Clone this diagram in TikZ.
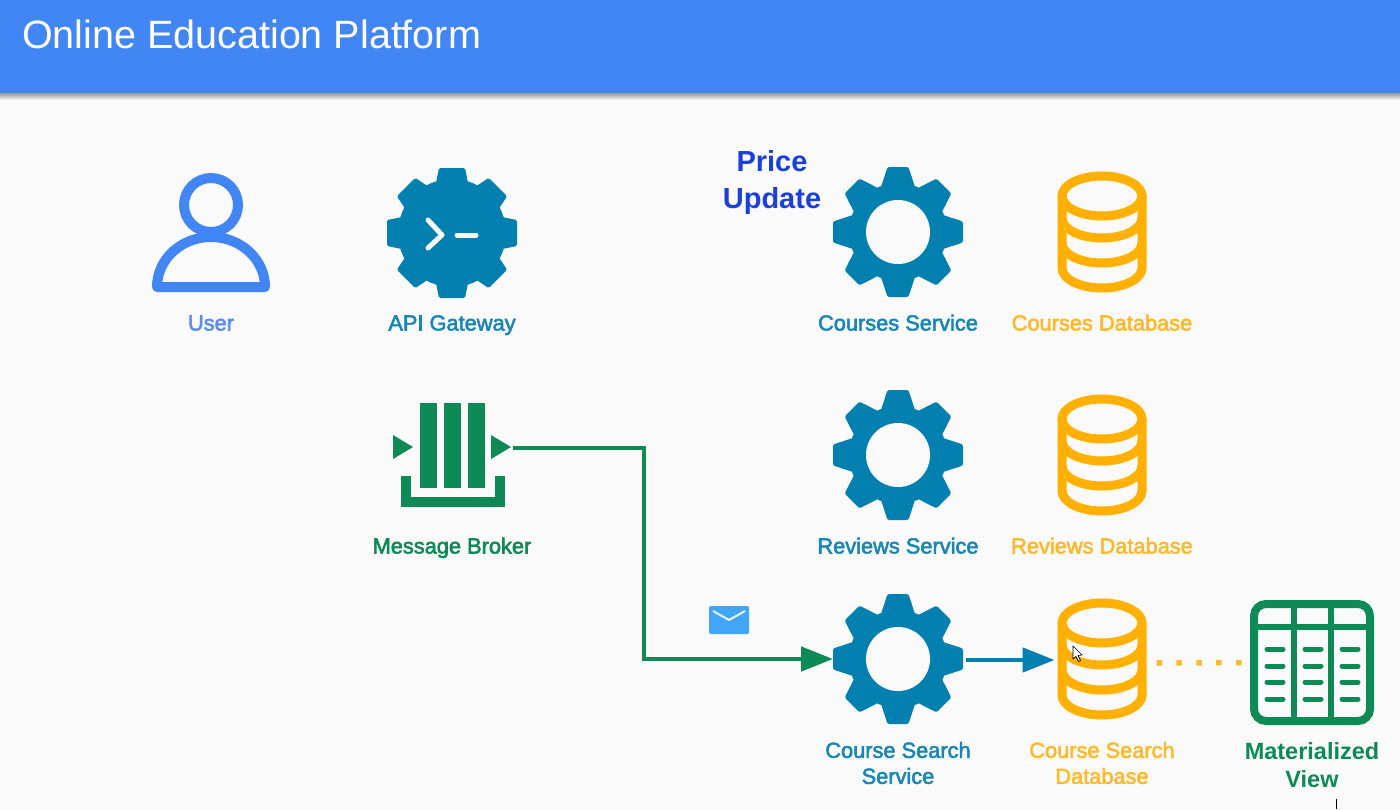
\documentclass[tikz,border=0pt]{standalone}
\usepackage{fontspec}
\setmainfont{Liberation Sans}
\newfontfamily\lblfont[FakeBold=2.5]{Liberation Sans}
\usetikzlibrary{arrows.meta,calc}
\definecolor{pagebg}{HTML}{FAFAFA}
\definecolor{headblue}{HTML}{4285F4}
\definecolor{gearblue}{HTML}{0480B0}
\definecolor{gearlabel}{HTML}{1A86B4}
\definecolor{dbgold}{HTML}{FFB000}
\definecolor{dblabel}{HTML}{FDB92C}
\definecolor{brokergreen}{HTML}{0D8A55}
\definecolor{userlabel}{HTML}{5B8EEA}
\definecolor{priceblue}{HTML}{1A40DC}
\definecolor{mailblue}{HTML}{42A5F5}
\tikzset{
  x=1pt,y=-1pt,
  iconbox/.style={inner sep=0pt,outer sep=0pt,minimum width=#1,minimum height=#1,draw=none},
  lbl/.style={inner sep=0pt,align=center,font=\lblfont\fontsize{21.8}{26}\selectfont,text=#1},
  onerow/.style={text height=16pt,text depth=5pt},
  flow/.style={line width=4.6pt,-{Triangle[length=32pt,width=24pt]}},
  gearpic/.pic={
    \fill[gearblue] (0,0) circle[radius=49];
    \foreach \a in {0,45,...,315}{
      \fill[gearblue,rotate=\a,rounded corners=1.5pt] (-17,-45) -- (-10.5,-65) -- (10.5,-65) -- (17,-45) -- cycle;
    }
    \fill[pagebg] (0,0) circle[radius=32];
  },
  apigearpic/.pic={
    \fill[gearblue] (0,0) circle[radius=54];
    \foreach \a in {0,45,...,315}{
      \fill[gearblue,rotate=\a,rounded corners=1.5pt] (-16,-50) -- (-13,-65) -- (13,-65) -- (16,-50) -- cycle;
    }
    \draw[pagebg,line width=5pt,line cap=round,line join=round] (-24,-13) -- (-10,2) -- (-24,15);
    \draw[pagebg,line width=5pt,line cap=round] (5,2) -- (24,2);
  },
  dbpic/.pic={
    \draw[dbgold,line width=9pt] (0,-36) ellipse[x radius=40,y radius=20];
    \draw[dbgold,line width=9pt] (-40,-36) -- (-40,36) arc[start angle=180,end angle=0,x radius=40,y radius=20] -- (40,-36);
    \draw[dbgold,line width=9pt] (-40,-14) arc[start angle=180,end angle=0,x radius=40,y radius=20];
    \draw[dbgold,line width=9pt] (-40,11) arc[start angle=180,end angle=0,x radius=40,y radius=20];
  },
}
\begin{document}
\begin{tikzpicture}
\useasboundingbox (0,0) rectangle (1400,809);
\fill[pagebg] (0,0) rectangle (1400,809);
\shade[top color=black!45,bottom color=pagebg] (0,92) rectangle (1400,100);
\fill[headblue] (0,0) rectangle (1400,93);
\node[anchor=base west,inner sep=0pt,text=white,font=\fontsize{39.5}{46}\selectfont] (title) at (22,48) {Online Education Platform};

% User
\node[iconbox=120pt] (user) at (211,233) {};
\draw[headblue,line width=10pt] (211,205) circle[radius=27];
\draw[headblue,line width=10pt,line join=round] (157,287) arc[start angle=180,end angle=360,x radius=54,y radius=50] -- cycle;
\node[lbl=userlabel,onerow] (userlabel) at (211,325) {User};

% Gateway
\node[iconbox=130pt] (gateway) at (452,233) {};
\pic at (452,233) {apigearpic};
\node[lbl=gearlabel,onerow] (gatewaylabel) at (452,325) {API Gateway};

% Broker
\node[inner sep=0pt,outer sep=0pt,minimum width=122pt,minimum height=104pt] (broker) at (452,448) {};
\fill[brokergreen] (420,403) rectangle (437,488);
\fill[brokergreen] (444,403) rectangle (461,488);
\fill[brokergreen] (468,403) rectangle (485,488);
\fill[brokergreen] (393,435) -- (413,447) -- (393,459) -- cycle;
\fill[brokergreen] (491,435) -- (511,447) -- (491,459) -- cycle;
\draw[brokergreen,line width=10pt] (406,476) -- (406,502) -- (500,502) -- (500,476);
\node[lbl=brokergreen,onerow] (brokerlabel) at (452,548) {Message Broker};

% Services
\node[iconbox=130pt] (courses) at (898,232) {};
\pic at (898,232) {gearpic};
\node[lbl=gearlabel,onerow] (courseslabel) at (898,325) {Courses Service};
\node[iconbox=130pt] (reviews) at (898,455) {};
\pic at (898,455) {gearpic};
\node[lbl=gearlabel,onerow] (reviewslabel) at (898,548) {Reviews Service};
\node[iconbox=130pt] (search) at (898,659) {};
\pic at (898,659) {gearpic};
\node[lbl=gearlabel] (searchlabel) at (898,763) {Course Search\\Service};

% Databases
\node[iconbox=89pt] (coursesdb) at (1102,232) {};
\pic at (1102,232) {dbpic};
\node[lbl=dblabel,onerow] (coursesdblabel) at (1102,325) {Courses Database};
\node[iconbox=89pt] (reviewsdb) at (1102,455) {};
\pic at (1102,455) {dbpic};
\node[lbl=dblabel,onerow] (reviewsdblabel) at (1102,548) {Reviews Database};
\node[iconbox=89pt] (searchdb) at (1102,659) {};
\pic at (1102,659) {dbpic};
\node[lbl=dblabel] (searchdblabel) at (1102,763) {Course Search\\Database};

% Materialized view
\node[iconbox=124pt] (view) at (1312,662.5) {};
\draw[brokergreen,line width=8pt,rounded corners=12pt] (1254,604) rectangle (1370,721);
\draw[brokergreen,line width=6pt] (1254,627) -- (1370,627);
\draw[brokergreen,line width=6pt] (1294,604) -- (1294,721);
\draw[brokergreen,line width=6pt] (1331,604) -- (1331,721);
\foreach \ry in {649,666,682,699}{
  \foreach \rx in {1265,1303,1340}{
    \draw[brokergreen,line width=5pt,line cap=round] (\rx+2,\ry) -- (\rx+18,\ry);
  }
}
\node[inner sep=0pt,align=center,text=brokergreen,font=\bfseries\fontsize{23.5}{28}\selectfont] (viewlabel) at (1312,765) {Materialized\\View};

% Price update
\node[inner sep=0pt,align=center,text=priceblue,font=\bfseries\fontsize{29}{37}\selectfont] (price) at (772,182) {Price\\Update};

% Connectors
\coordinate (brokerout) at (broker.east |- 0,448);
\coordinate (searchin) at (search.west);
\draw[flow,brokergreen,line join=miter] (brokerout) -- (644,448) -- (644,659) -- (searchin);
\draw[flow,gearblue] ($(search.east)+(3,1)$) -- ($(searchdb.west)+(-3,1)$);
\draw[dblabel,line width=5.5pt,dash pattern=on 5.5pt off 14.4pt] (1156.5,663) -- (view.west);

% Envelope
\node[inner sep=0pt,outer sep=0pt,minimum width=40pt,minimum height=28pt,fill=mailblue,rounded corners=2pt] (mail) at (729,620) {};
\draw[white!90!mailblue,line width=2pt,line join=round] (713,611) -- (729,620) -- (745,611);

% Cursor
\draw[black,fill=white,line width=.7pt,line join=round] (1073,646) -- (1073,659) -- (1076,656.5) -- (1078.5,661.5) -- (1080.5,660.5) -- (1078,655.5) -- (1082,655) -- cycle;
\draw[black,line width=1pt] (1336.5,799) -- (1336.5,809);
\end{tikzpicture}
\end{document}
